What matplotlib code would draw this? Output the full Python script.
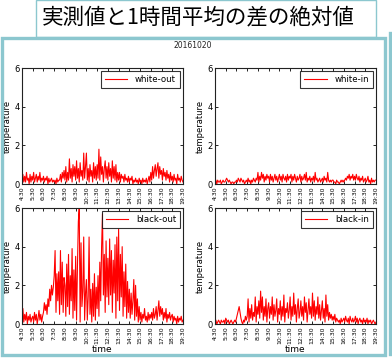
import matplotlib
matplotlib.use("Agg")
import matplotlib.pyplot as plt
import numpy as np
from matplotlib.patches import Rectangle
from matplotlib.lines import Line2D

# ---------------- data ----------------
title_text = "実測値と1時間平均の差の絶対値"
date_text = "20161020"
tick_labels = ["4:30", "5:30", "6:30", "7:30", "8:30", "9:30", "10:30", "11:30",
               "12:30", "13:30", "14:30", "15:30", "16:30", "17:30", "18:30", "19:30"]
series_names = ["white-out", "white-in", "black-out", "black-in"]

# 5-minute samples from 4:30 to 19:30 (one row per hour)
white_out = [
    0.2,0.5,0.1,0.4,0.1,0.6,0.2,0.3,0.0,0.5,0.1,0.4,
    0.2,0.6,0.1,0.3,0.5,0.1,0.4,0.2,0.6,0.1,0.3,0.2,
    0.4,0.1,0.3,0.2,0.4,0.0,0.3,0.1,0.2,0.3,0.1,0.2,
    0.1,0.2,0.0,0.3,0.1,0.2,0.2,0.5,0.1,0.6,0.3,0.7,
    0.2,0.9,0.1,0.6,0.2,1.3,0.3,0.8,0.1,1.0,0.4,0.9,
    0.2,1.2,0.3,0.8,0.1,1.1,0.4,0.7,0.2,1.6,0.3,0.9,
    1.6,0.2,0.8,0.1,1.0,0.4,0.7,0.1,1.1,0.3,0.9,0.2,
    1.0,0.3,1.8,0.2,1.4,0.5,0.9,0.1,0.8,1.2,0.3,0.9,
    0.2,1.1,0.4,0.8,0.1,1.2,0.3,0.9,0.2,1.0,0.1,0.6,
    0.2,0.6,0.1,0.5,0.3,0.4,0.1,0.5,0.2,0.3,0.1,0.4,
    0.1,0.3,0.2,0.4,0.0,0.2,0.1,0.3,0.1,0.2,0.0,0.3,
    0.1,0.2,0.0,0.3,0.1,0.2,0.1,0.3,0.0,0.2,0.4,0.1,
    0.6,0.2,0.9,0.3,0.7,1.0,0.4,0.8,1.1,0.3,0.9,0.5,
    0.7,0.2,0.8,0.4,0.6,0.2,0.7,0.3,0.5,0.1,0.6,0.2,
    0.4,0.1,0.5,0.2,0.3,0.0,0.5,0.2,0.3,0.1,0.4,0.2,
    0.1]

white_in = [
    0.1,0.2,0.0,0.2,0.1,0.1,0.2,0.0,0.1,0.2,0.1,0.1,
    0.2,0.3,0.2,0.1,0.2,0.1,0.0,0.1,0.1,0.0,0.1,0.1,
    0.2,0.1,0.3,0.2,0.1,0.3,0.2,0.1,0.2,0.0,0.1,0.2,
    0.1,0.3,0.1,0.2,0.0,0.2,0.1,0.3,0.2,0.1,0.3,0.2,
    0.6,0.1,0.4,0.2,0.6,0.3,0.5,0.1,0.4,0.2,0.5,0.3,
    0.4,0.1,0.5,0.2,0.4,0.1,0.3,0.5,0.2,0.4,0.1,0.3,
    0.5,0.2,0.4,0.1,0.5,0.3,0.2,0.4,0.1,0.5,0.2,0.4,
    0.3,0.5,0.1,0.4,0.2,0.5,0.3,0.1,0.4,0.2,0.3,0.5,
    0.1,0.4,0.2,0.3,0.5,0.2,0.6,0.1,0.3,0.2,0.4,0.1,
    0.3,0.2,0.4,0.1,0.6,0.2,0.3,0.1,0.2,0.3,0.1,0.2,
    0.3,0.1,0.4,0.2,0.3,0.1,0.6,0.2,0.1,0.2,0.1,0.2,
    0.2,0.1,0.1,0.0,0.2,0.1,0.1,0.0,0.1,0.2,0.1,0.2,
    0.1,0.2,0.3,0.2,0.4,0.3,0.5,0.2,0.4,0.3,0.5,0.2,
    0.4,0.2,0.5,0.3,0.2,0.4,0.1,0.3,0.2,0.4,0.1,0.2,
    0.3,0.1,0.2,0.4,0.1,0.2,0.0,0.3,0.1,0.2,0.1,0.2,
    0.2]

black_out = [
    0.3,0.8,0.1,0.5,0.2,0.6,0.0,0.4,0.2,0.5,0.1,0.3,
    0.4,0.1,0.6,0.2,0.5,0.0,0.3,0.7,0.2,0.5,0.1,0.4,
    0.6,1.1,0.7,1.0,0.5,1.3,0.9,1.8,1.2,2.0,1.5,1.9,
    2.5,3.8,0.6,2.6,1.2,2.7,0.5,3.8,1.0,3.2,0.6,2.4,
    2.0,0.4,3.1,0.9,3.6,0.5,2.5,1.2,3.9,0.3,2.8,0.7,
    3.5,0.2,3.0,5.3,6.0,0.1,4.2,0.9,1.7,4.5,0.2,1.6,
    2.3,0.2,1.4,4.5,0.5,1.8,0.1,2.1,0.4,2.6,0.2,1.9,
    0.8,2.5,0.4,3.2,1.2,4.0,5.7,1.5,3.6,0.6,4.3,1.4,
    3.4,1.0,4.4,1.5,3.8,0.6,3.3,1.6,4.1,0.3,4.5,1.2,
    4.9,0.7,3.6,1.4,4.0,0.4,2.7,0.9,3.1,0.3,2.2,0.6,
    1.8,0.3,1.6,0.5,1.2,2.3,0.2,2.0,0.4,1.3,0.1,0.9,
    0.2,0.6,0.1,0.5,0.3,0.8,0.2,0.4,0.1,0.6,0.2,0.5,
    0.3,0.6,0.2,0.8,0.3,0.5,0.9,0.2,0.7,1.2,0.4,0.9,
    0.5,0.8,0.2,0.6,0.3,0.8,0.1,0.5,0.3,0.6,0.2,0.4,
    0.5,0.1,0.4,0.2,0.3,0.0,0.4,0.1,0.3,0.2,0.4,0.1,
    0.2]

black_in = [
    0.1,0.2,0.0,0.1,0.2,0.1,0.0,0.2,0.1,0.1,0.2,0.0,
    0.3,0.2,0.1,0.2,0.0,0.1,0.2,0.1,0.0,0.1,0.2,0.1,
    0.3,0.5,0.7,0.9,0.6,0.3,0.1,0.0,0.2,0.1,0.4,0.2,
    0.4,1.3,0.1,0.8,0.3,1.0,0.2,0.6,0.4,1.4,0.1,0.9,
    0.5,1.2,0.3,1.7,0.6,1.4,0.2,0.9,0.4,1.3,0.1,0.8,
    1.1,0.3,0.9,0.5,1.4,0.2,1.0,0.4,0.7,1.3,0.1,0.8,
    0.5,1.2,0.2,0.9,0.4,1.5,0.1,0.8,0.6,1.1,0.3,0.7,
    1.4,0.2,0.9,0.4,1.6,0.5,1.0,0.1,0.8,1.3,0.3,0.6,
    1.2,0.4,0.9,0.2,1.4,0.6,1.1,0.1,0.7,1.3,0.5,0.9,
    0.3,1.6,0.4,1.2,0.2,0.9,0.5,1.4,0.3,1.0,0.2,0.7,
    1.2,0.3,0.8,0.1,1.5,0.4,1.0,0.2,0.6,0.3,0.5,0.2,
    0.4,0.2,0.5,0.1,0.3,0.2,0.1,0.2,0.0,0.3,0.1,0.2,
    0.3,0.1,0.4,0.2,0.1,0.3,0.0,0.4,0.2,0.1,0.3,0.1,
    0.2,0.4,0.1,0.3,0.0,0.2,0.3,0.1,0.2,0.0,0.3,0.1,
    0.2,0.1,0.3,0.0,0.2,0.1,0.2,0.0,0.1,0.2,0.1,0.0,
    0.1]

# ---------------- figure ----------------
W, H = 392, 358
fig = plt.figure(figsize=(W / 100, H / 100), dpi=100, facecolor="white")

def fx(px):
    return px / W

def fy(py):
    return 1 - py / H

teal = "#8cc7cf"
# title box
fig.patches.append(Rectangle((fx(36), fy(37)), fx(376) - fx(36), fy(0.5) - fy(37),
                             transform=fig.transFigure, fill=False, ec=teal, lw=1.0))
fig.text(fx(198), fy(17), title_text, ha="center", va="center", fontsize=15.5,
         family=["Noto Sans CJK JP", "DejaVu Sans"], color="black")
# outer frame
fig.patches.append(Rectangle((fx(1.5), fy(355)), fx(385) - fx(1.5), fy(38.5) - fy(355),
                             transform=fig.transFigure, fill=False, ec=teal, lw=2.4))
fig.add_artist(Line2D([fx(389.5), fx(389.5)], [fy(33), fy(354)], transform=fig.transFigure,
                      color=teal, lw=2.4))

fig.text(fx(193), fy(46), date_text, ha="center", va="center", fontsize=5.5, color="#222222")

hours = 4.5 + np.arange(len(white_out)) * 5 / 60
tick_pos = 4.5 + np.arange(len(tick_labels))
data = [white_out, white_in, black_out, black_in]

lefts = [22, 215, 22, 215]
tops = [68, 68, 208, 208]
aw, ah = 161, 116

for i, (name, vals) in enumerate(zip(series_names, data)):
    l, t = lefts[i], tops[i]
    ax = fig.add_axes([fx(l), fy(t + ah), aw / W, ah / H])
    ax.plot(hours, vals, color="red", lw=0.8, label=name)
    ax.set_xlim(4.5, 19.5)
    ax.set_ylim(0, 6)
    ax.set_yticks([0, 2, 4, 6])
    ax.set_xticks(tick_pos)
    ax.set_xticklabels(tick_labels, rotation=90, fontsize=4.4)
    ax.tick_params(axis="y", labelsize=6, pad=1.5)
    ax.tick_params(axis="x", pad=1.5)
    ax.tick_params(direction="in", top=True, right=True, length=2.5, width=0.6)
    for s in ax.spines.values():
        s.set_linewidth(0.8)
        s.set_color("#222222")
    ax.set_ylabel("temperature", fontsize=6, labelpad=2)
    if i >= 2:
        ax.set_xlabel("time", fontsize=6.5, labelpad=1)
    leg = ax.legend(loc="upper right", fontsize=6.2, frameon=True, fancybox=False,
                    edgecolor="black", borderaxespad=0.35, handlelength=2.6,
                    borderpad=0.45, handletextpad=0.9)
    leg.get_frame().set_linewidth(0.8)

fig.savefig("out.png", dpi=100, facecolor="white")
